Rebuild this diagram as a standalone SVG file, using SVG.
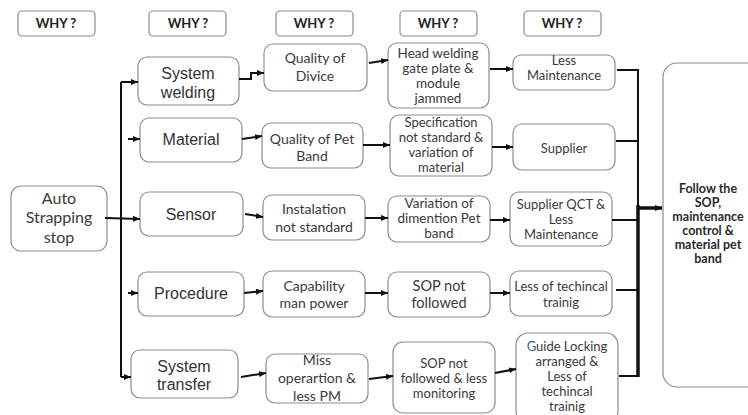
<svg xmlns="http://www.w3.org/2000/svg" width="748" height="415" viewBox="0 0 748 415">
<style>
.box{fill:#fff;stroke:#8c8c8c;stroke-width:1.2}
.c{stroke:#111;stroke-width:2;fill:none}
.t{font-family:Lato,"Open Sans",sans-serif;fill:#3a3a3a;text-anchor:middle;font-size:13.5px}
.a{font-family:"Liberation Sans",Arial,sans-serif;fill:#333;text-anchor:middle;font-size:16px}
.w{font-family:Lato,"Open Sans",sans-serif;fill:#222;text-anchor:middle;font-size:13px;font-weight:bold}
.b{font-family:Lato,"Open Sans",sans-serif;fill:#2a2a2a;text-anchor:middle;font-size:12.5px;font-weight:bold}
</style>
<defs>
<marker id="ar" markerUnits="userSpaceOnUse" markerWidth="7" markerHeight="6" refX="7" refY="3" orient="auto">
<path d="M0,0 L7,3 L0,6 z" fill="#111"/>
</marker>
</defs>
<g id="why1"><rect class="box" x="18" y="11" width="77" height="25" rx="4"/><text class="w" x="56" y="28">WHY ?</text></g>
<g id="why2"><rect class="box" x="149" y="11" width="77" height="25" rx="4"/><text class="w" x="188" y="28">WHY ?</text></g>
<g id="why3"><rect class="box" x="276" y="11" width="77" height="25" rx="4"/><text class="w" x="314" y="28">WHY ?</text></g>
<g id="why4"><rect class="box" x="400" y="11" width="77" height="25" rx="4"/><text class="w" x="438" y="28">WHY ?</text></g>
<g id="why5"><rect class="box" x="524" y="11" width="77" height="25" rx="4"/><text class="w" x="562" y="28">WHY ?</text></g>

<g id="auto"><rect class="box" x="11" y="186" width="96" height="65" rx="10"/><text class="t" style="font-size:16px" x="59"><tspan x="59" y="204">Auto</tspan><tspan x="59" y="223">Strapping</tspan><tspan x="59" y="243">stop</tspan></text></g>

<g id="system-welding"><rect class="box" x="138" y="57" width="101" height="48" rx="9"/><text class="a"><tspan x="188" y="79">System</tspan><tspan x="188" y="98">welding</tspan></text></g>
<g id="material"><rect class="box" x="140" y="118" width="102" height="44" rx="9"/><text class="a" x="191" y="145">Material</text></g>
<g id="sensor"><rect class="box" x="140" y="192" width="103" height="44" rx="9"/><text class="a" x="191" y="220">Sensor</text></g>
<g id="procedure"><rect class="box" x="138" y="272" width="106" height="44" rx="9"/><text class="a" x="191" y="299">Procedure</text></g>
<g id="system-transfer"><rect class="box" x="131" y="350" width="107" height="48" rx="9"/><text class="a"><tspan x="184" y="372">System</tspan><tspan x="184" y="390">transfer</tspan></text></g>

<g id="quality-divice"><rect class="box" x="264" y="44" width="103" height="47" rx="9"/><text class="t" style="font-size:14px"><tspan x="315" y="63">Quality of</tspan><tspan x="315" y="81">Divice</tspan></text></g>
<g id="quality-pet"><rect class="box" x="262" y="123" width="101" height="45" rx="9"/><text class="t" style="font-size:14px"><tspan x="312" y="144">Quality of Pet</tspan><tspan x="312" y="161">Band</tspan></text></g>
<g id="instalation"><rect class="box" x="263" y="195" width="102" height="45" rx="9"/><text class="t" style="font-size:14px"><tspan x="314" y="214">Instalation</tspan><tspan x="314" y="232">not standard</tspan></text></g>
<g id="capability"><rect class="box" x="263" y="271" width="102" height="46" rx="9"/><text class="t" style="font-size:14px"><tspan x="314" y="291">Capability</tspan><tspan x="314" y="308">man power</tspan></text></g>
<g id="miss"><rect class="box" x="266" y="354" width="102" height="49" rx="9"/><text class="t" style="font-size:14px"><tspan x="317" y="365">Miss</tspan><tspan x="317" y="383">operartion &amp;</tspan><tspan x="317" y="401">less PM</tspan></text></g>

<g id="head-welding"><rect class="box" x="388" y="43" width="101" height="65" rx="9"/><text class="t"><tspan x="438" y="58">Head welding</tspan><tspan x="438" y="73">gate plate &amp;</tspan><tspan x="438" y="88">module</tspan><tspan x="438" y="103">jammed</tspan></text></g>
<g id="specification"><rect class="box" x="390" y="115" width="102" height="61" rx="9"/><text class="t" style="font-size:13px"><tspan x="441" y="127">Specification</tspan><tspan x="441" y="142">not standard &amp;</tspan><tspan x="441" y="157">variation of</tspan><tspan x="441" y="172">material</tspan></text></g>
<g id="variation"><rect class="box" x="388" y="196" width="102" height="46" rx="9"/><text class="t"><tspan x="439" y="208">Variation of</tspan><tspan x="439" y="223">dimention Pet</tspan><tspan x="439" y="238">band</tspan></text></g>
<g id="sop-not-followed"><rect class="box" x="388" y="272" width="102" height="45" rx="9"/><text class="t" style="font-size:14.5px"><tspan x="439" y="291">SOP not</tspan><tspan x="439" y="308">followed</tspan></text></g>
<g id="sop-less-monitoring"><rect class="box" x="393" y="342" width="102" height="71" rx="10"/><text class="t" style="font-size:13px"><tspan x="444" y="368">SOP not</tspan><tspan x="444" y="383">followed &amp; less</tspan><tspan x="444" y="398">monitoring</tspan></text></g>

<g id="less-maintenance"><rect class="box" x="513" y="55" width="102" height="35" rx="8"/><text class="t" style="font-size:13px"><tspan x="564" y="65">Less</tspan><tspan x="564" y="80">Maintenance</tspan></text></g>
<g id="supplier"><rect class="box" x="513" y="124" width="102" height="46" rx="9"/><text class="t" style="font-size:13px" x="564" y="153">Supplier</text></g>
<g id="supplier-qct"><rect class="box" x="510" y="192" width="102" height="54" rx="9"/><text class="t" style="font-size:13px"><tspan x="561" y="209">Supplier QCT &amp;</tspan><tspan x="561" y="224">Less</tspan><tspan x="561" y="239">Maintenance</tspan></text></g>
<g id="less-technical"><rect class="box" x="510" y="271" width="102" height="45" rx="9"/><text class="t" style="font-size:13px"><tspan x="561" y="291">Less of techincal</tspan><tspan x="561" y="307">trainig</tspan></text></g>
<g id="guide-locking"><rect class="box" x="516" y="333" width="102" height="90" rx="12"/><text class="t" style="font-size:13px"><tspan x="567" y="351"><tspan fill="#3b5b9b">G</tspan>uide Locking</tspan><tspan x="567" y="366">arranged &amp;</tspan><tspan x="567" y="381">Less of</tspan><tspan x="567" y="396">techincal</tspan><tspan x="567" y="411">trainig</tspan></text></g>

<g id="follow-sop"><rect class="box" x="663" y="63" width="100" height="324" rx="14"/><text class="b"><tspan x="708" y="193">Follow the</tspan><tspan x="708" y="207">SOP,</tspan><tspan x="708" y="221">maintenance</tspan><tspan x="708" y="235">control &amp;</tspan><tspan x="708" y="249">material pet</tspan><tspan x="708" y="263">band</tspan></text></g>

<g id="connectors">
<path class="c" d="M121,82 V377"/>
<path class="c" d="M121,82 H138" marker-end="url(#ar)"/>
<path class="c" d="M128,139 H140" marker-end="url(#ar)"/>
<path class="c" d="M105,218 L140,219" marker-end="url(#ar)"/>
<path class="c" d="M128,293 H138" marker-end="url(#ar)"/>
<path class="c" d="M121,377 H131" marker-end="url(#ar)"/>
<path class="c" d="M239,79 H251 V73 H264" marker-end="url(#ar)"/>
<path class="c" d="M242,139 L262,136" marker-end="url(#ar)"/>
<path class="c" d="M245,214 L263,217" marker-end="url(#ar)"/>
<path class="c" d="M244,293 L263,291" marker-end="url(#ar)"/>
<path class="c" d="M241,377 L266,373" marker-end="url(#ar)"/>
<path class="c" d="M369,63 L388,60" marker-end="url(#ar)"/>
<path class="c" d="M363,145 H390" marker-end="url(#ar)"/>
<path class="c" d="M365,218 H388" marker-end="url(#ar)"/>
<path class="c" d="M365,293 H388" marker-end="url(#ar)"/>
<path class="c" d="M369,379 L393,376" marker-end="url(#ar)"/>
<path class="c" d="M490,69 H513" marker-end="url(#ar)"/>
<path class="c" d="M492,147 H513" marker-end="url(#ar)"/>
<path class="c" d="M490,220 H510" marker-end="url(#ar)"/>
<path class="c" d="M490,293 H510" marker-end="url(#ar)"/>
<path class="c" d="M495,373 L516,369" marker-end="url(#ar)"/>
<path class="c" d="M617,70 H638 M616,141 H638 M612,220 H638 M616,290 H638 M619,376 H639"/>
<path class="c" d="M638,69 V377"/>
<path class="c" style="stroke-width:3.5" d="M638,205 V377"/>
<path class="c" style="stroke-width:3.5" d="M638,208 H662" marker-end="url(#ar)"/>
</g>
</svg>
